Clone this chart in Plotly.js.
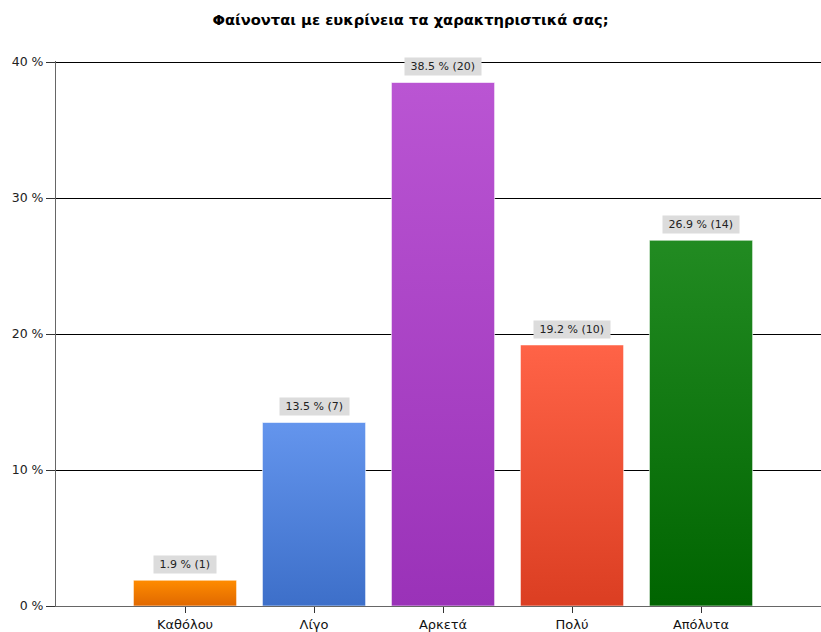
<!DOCTYPE html>
<html>
<head>
<meta charset="utf-8">
<script src="https://cdn.plot.ly/plotly-3.0.1.min.js"></script>
<style>html,body{margin:0;padding:0;background:#fff;}#chart{width:821px;height:632px;}</style>
</head>
<body>
<div id="chart"></div>
<script>
const categories = ["Καθόλου", "Λίγο", "Αρκετά", "Πολύ", "Απόλυτα"];
const percents = [1.9, 13.5, 38.5, 19.2, 26.9];
const counts = [1, 7, 20, 10, 14];
const topColors = ["#FF8C00", "#6495ED", "#BA55D3", "#FF6347", "#228B22"];
const bottomColors = ["#E06800", "#3D6FC9", "#9A32B8", "#DB3E22", "#006400"];
const yTickVals = [0, 10, 20, 30, 40];
const yTickText = ["0 %", "10 %", "20 %", "30 %", "40 %"];

const labels = percents.map((p, i) => "&nbsp;" + p.toFixed(1) + " % (" + counts[i] + ")&nbsp;");

const trace = {
  type: "bar",
  x: categories.map((c, i) => i),
  y: percents,
  width: 0.8,
  marker: { color: topColors, line: { color: "rgba(255,255,255,0.6)", width: 1 } },
  hoverinfo: "none"
};

const annotations = percents.map((p, i) => ({
  x: i, y: p, xref: "x", yref: "y",
  text: labels[i], showarrow: false,
  yanchor: "bottom", yshift: 6,
  bgcolor: "#DCDCDC", borderpad: 2,
  font: { family: "DejaVu Sans, sans-serif", size: 11, color: "#222" }
}));

const layout = {
  width: 821, height: 632,
  margin: { l: 56, r: 0, t: 61, b: 26 },
  paper_bgcolor: "#fff", plot_bgcolor: "#fff",
  showlegend: false,
  title: {
    text: "<b>Φαίνονται με ευκρίνεια τα χαρακτηριστικά σας;</b>",
    x: 0.5, xanchor: "center", y: 0.968, yanchor: "middle",
    font: { family: "DejaVu Sans, sans-serif", size: 14.7, color: "#000" }
  },
  xaxis: {
    range: [-1.0, 4.93],
    tickvals: categories.map((c, i) => i),
    ticktext: categories,
    ticks: "outside", ticklen: 6, tickcolor: "#333",
    showline: true, linecolor: "#666", linewidth: 1,
    showgrid: false, zeroline: false, fixedrange: true,
    tickfont: { family: "DejaVu Sans, sans-serif", size: 13, color: "#111" }
  },
  yaxis: {
    range: [0, 40.08],
    tickvals: yTickVals, ticktext: yTickText,
    ticks: "outside", ticklen: 9, tickcolor: "#333",
    showline: true, linecolor: "#666", linewidth: 1,
    showgrid: true, gridcolor: "#000", gridwidth: 1,
    zeroline: false, fixedrange: true,
    tickfont: { family: "DejaVu Sans, sans-serif", size: 12.5, color: "#222" }
  },
  annotations: annotations
};

Plotly.newPlot("chart", [trace], layout, { displayModeBar: false, staticPlot: true }).then(function (gd) {
  const svg = gd.querySelector("svg.main-svg");
  const ns = "http://www.w3.org/2000/svg";
  let defs = svg.querySelector("defs");
  if (!defs) { defs = document.createElementNS(ns, "defs"); svg.insertBefore(defs, svg.firstChild); }
  topColors.forEach((c, i) => {
    const g = document.createElementNS(ns, "linearGradient");
    g.setAttribute("id", "bargrad" + i);
    g.setAttribute("x1", "0"); g.setAttribute("y1", "0");
    g.setAttribute("x2", "0"); g.setAttribute("y2", "1");
    const s1 = document.createElementNS(ns, "stop");
    s1.setAttribute("offset", "0"); s1.setAttribute("stop-color", c);
    const s2 = document.createElementNS(ns, "stop");
    s2.setAttribute("offset", "1"); s2.setAttribute("stop-color", bottomColors[i]);
    g.appendChild(s1); g.appendChild(s2);
    defs.appendChild(g);
  });
  const paths = gd.querySelectorAll(".barlayer .point path");
  paths.forEach((p, i) => { p.style.fill = "url(#bargrad" + i + ")"; });
});
</script>
</body>
</html>
